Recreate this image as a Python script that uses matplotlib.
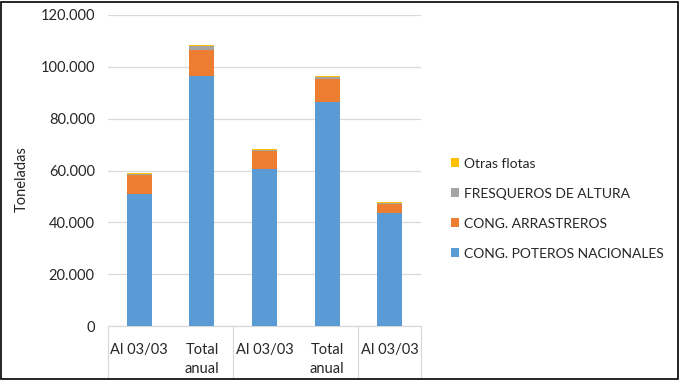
import numpy as np
import matplotlib
matplotlib.use("Agg")
import matplotlib.pyplot as plt
from matplotlib.patches import Rectangle
from matplotlib.ticker import FuncFormatter

plt.rcParams['font.family'] = ['Lato', 'DejaVu Sans']

categories = ["Al 03/03", "Total\nanual", "Al 03/03", "Total\nanual", "Al 03/03"]
group_edges = [-0.5, 1.5, 3.5, 4.5]

poteros = [51000, 96500, 60600, 86500, 43600]
arrastreros = [7200, 10000, 7100, 8800, 3400]
fresqueros = [400, 1650, 380, 900, 500]
otras = [270, 270, 270, 270, 380]

series = [
    ("CONG. POTEROS NACIONALES", poteros, "#5B9BD5"),
    ("CONG. ARRASTREROS", arrastreros, "#ED7D31"),
    ("FRESQUEROS DE ALTURA", fresqueros, "#A5A5A5"),
    ("Otras flotas", otras, "#FFC000"),
]

W, H = 680, 380
fig = plt.figure(figsize=(W / 100, H / 100), dpi=100)
ax = fig.add_axes([108 / W, (H - 326) / H, (421 - 108) / W, 311 / H])

x = np.arange(len(categories))
bottom = np.zeros(len(categories))
handles = []
for name, vals, col in series:
    b = ax.bar(x, vals, width=0.4, bottom=bottom, color=col, label=name, zorder=3)
    bottom += np.array(vals)
    handles.append(b)

ax.set_xlim(-0.5, 4.5)
ax.set_ylim(0, 120000)
ax.set_yticks(np.arange(0, 120001, 20000))
ax.yaxis.set_major_formatter(FuncFormatter(lambda v, p: f"{int(v):,}".replace(",", ".")))
ax.grid(axis='y', color='#d9d9d9', linewidth=0.9, zorder=0)
for s in ['top', 'right', 'left']:
    ax.spines[s].set_visible(False)
ax.spines['bottom'].set_color('#d9d9d9')
ax.spines['bottom'].set_linewidth(0.9)
ax.tick_params(axis='y', length=0, pad=9.5, labelsize=10.5, labelcolor='#262626')
ax.set_xticks(x)
ax.set_xticklabels(categories, fontsize=10.5, color='#262626', va='top', linespacing=1.5)
ax.tick_params(axis='x', length=0, pad=12)

# category group separators below the axis
trans = ax.get_xaxis_transform()
for e in group_edges:
    ax.plot([e, e], [0, -53 / 311], color='#d9d9d9', linewidth=0.9, transform=trans, clip_on=False)

fig.text(22 / W, 1 - 179 / H, "Toneladas", rotation=90, ha='center', va='center',
         fontsize=10.5, color='#262626')

leg = fig.legend(handles[::-1], [s[0] for s in series][::-1], loc='upper left',
                 bbox_to_anchor=(438 / W, 1 - 145 / H), frameon=False, fontsize=10,
                 handlelength=0.6, handleheight=0.6, handletextpad=0.35,
                 labelspacing=1.3, labelcolor='#262626')

fig.patches.append(Rectangle((0.5 / W, 1.5 / H), (W - 3) / W, (H - 3) / H, transform=fig.transFigure,
                             fill=False, edgecolor='black', linewidth=1.2))

fig.savefig("out.png", dpi=100)
